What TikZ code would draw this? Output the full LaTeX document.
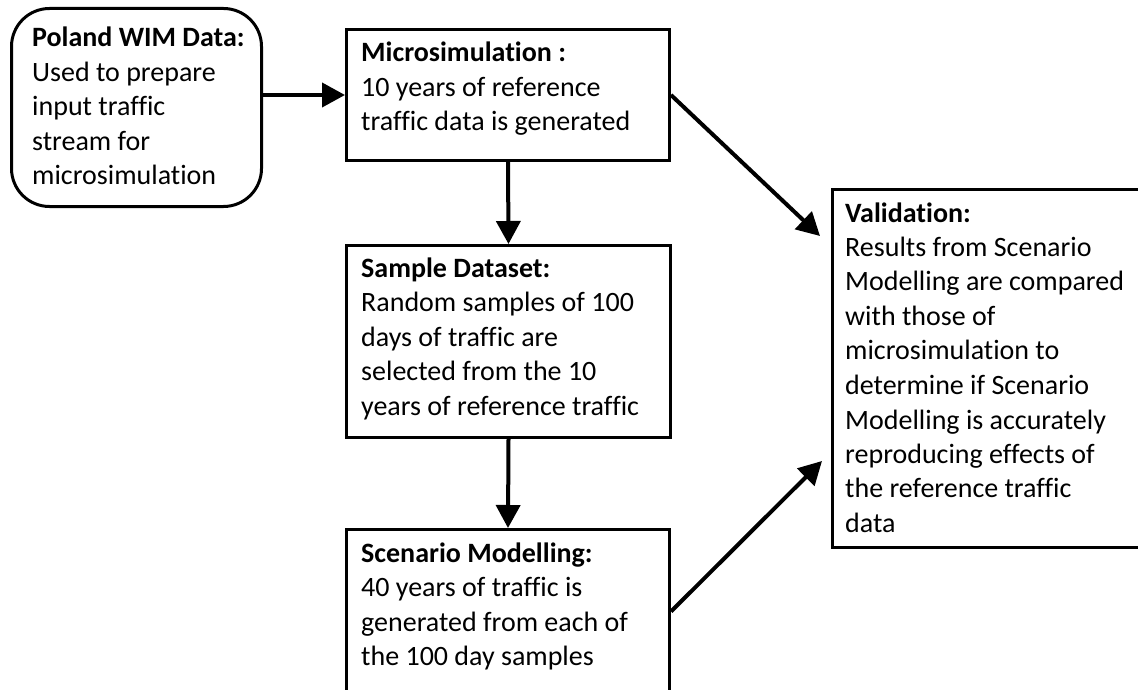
\documentclass[tikz,border=0pt]{standalone}
\usepackage{fontspec}
\setmainfont{Carlito}[Ligatures=NoCommon]
\usetikzlibrary{arrows.meta}
\tikzset{
  box/.style={draw=black, line width=3pt, anchor=north west, inner sep=0pt, fill=white},
  rbox/.style={box, rounded corners=38pt},
  txt/.style={anchor=base west, inner sep=0pt, font=\fontsize{28}{34.5}\selectfont},
  arr/.style={line width=4pt, -{Triangle[length=23pt,width=24pt]}}
}
\begin{document}
\begin{tikzpicture}[x=1pt,y=-1pt]
\useasboundingbox (0,0) rectangle (1138,690);
% boxes
\node[rbox, minimum width=250pt, minimum height=198pt] (poland) at (10,7) {};
\node[box, minimum width=323pt, minimum height=131pt] (micro) at (345,28) {};
\node[box, minimum width=324pt, minimum height=192pt] (sample) at (345,244) {};
\node[box, minimum width=323pt, minimum height=164pt] (scen) at (345,528) {};
\node[box, minimum width=320pt, minimum height=358pt] (val) at (831,188) {};
% texts
\node[txt] (tpoland) at (32,47) {\parbox[t]{230pt}{\textbf{Poland WIM Data:}\\Used to prepare\\input traffic\\stream for\\microsimulation}};
\node[txt] (tmicro) at (361,62) {\parbox[t]{300pt}{\textbf{Microsimulation :}\\10 years of reference\\traffic data is generated}};
\node[txt] (tsample) at (361,277) {\parbox[t]{300pt}{\textbf{Sample Dataset:}\\Random samples of 100\\days of traffic are\\selected from the 10\\years of reference traffic}};
\node[txt] (tscen) at (361,562) {\parbox[t]{300pt}{\textbf{Scenario Modelling:}\\40 years of traffic is\\generated from each of\\the 100 day samples}};
\node[txt] (tval) at (845,222) {\parbox[t]{300pt}{\textbf{Validation:}\\Results from Scenario\\Modelling are compared\\with those of\\microsimulation to\\determine if Scenario\\Modelling is accurately\\reproducing effects of\\the reference traffic\\data}};
% connectors
\draw[arr] (poland.east |- micro.west) -- (micro.west);
\draw[arr] (micro.south) -- (sample.north);
\draw[arr] (sample.south) -- (scen.north);
\draw[arr] (micro.east) -- ([shift={(-11,48)}]val.north west);
\draw[arr] (scen.east) -- ([shift={(-9,-88)}]val.south west);
\end{tikzpicture}
\end{document}
